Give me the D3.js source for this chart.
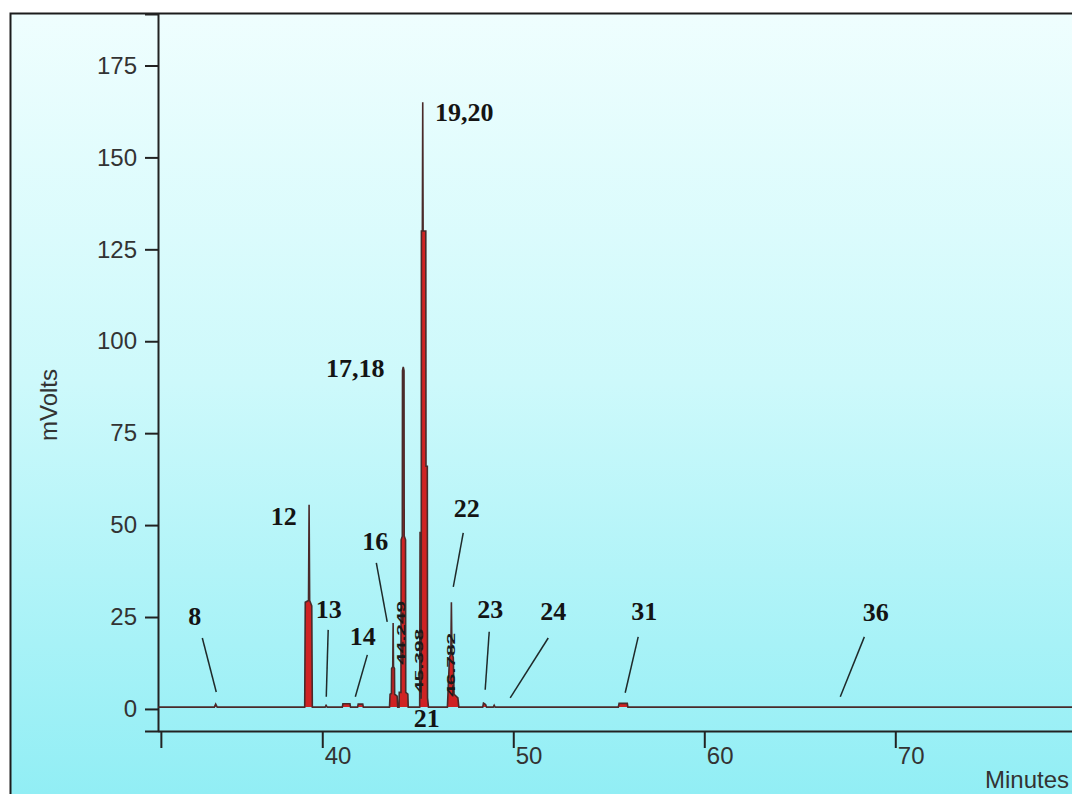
<!DOCTYPE html>
<html>
<head>
<meta charset="utf-8">
<script src="https://cdn.jsdelivr.net/npm/d3@7"></script>
<style>
  body { margin: 0; background: #fff; }
  svg { display: block; }
</style>
</head>
<body>
<svg id="chart" width="1072" height="794"></svg>
<script>
// chromatogram trace (minutes, mVolts)
const traceTime = [
    31.4,
    34.35, 34.42, 34.5,
    39.08, 39.11, 39.28, 39.31, 39.34, 39.45, 39.48,
    40.15, 40.2, 40.26,
    41.05, 41.08, 41.45, 41.48, 41.85, 41.88, 42.12, 42.15,
    43.52, 43.55, 43.62, 43.63, 43.69, 43.71, 43.73, 43.78, 43.79, 43.92, 43.95,
    44.02, 44.03, 44.12, 44.13, 44.19, 44.2, 44.24, 44.28, 44.29, 44.36, 44.37, 44.48, 44.5,
    45.1, 45.12, 45.15, 45.16, 45.18, 45.19, 45.24, 45.26, 45.28, 45.42, 45.43, 45.5, 45.51, 45.56,
    46.55, 46.58, 46.66, 46.73, 46.76, 46.79, 46.86, 46.9, 47.1, 47.15,
    48.4, 48.44, 48.55, 48.6, 48.95, 49.0, 49.05,
    55.5, 55.54, 55.97, 56.0,
    80
];
const traceMv = [
    0.5,
    0.5, 1.3, 0.5,
    0.5, 29, 29.5, 55.5, 29.5, 28, 0.5,
    0.5, 1.0, 0.5,
    0.5, 1.4, 1.4, 0.5, 0.5, 1.3, 1.3, 0.5,
    0.5, 4, 4.2, 11, 11.5, 23.4, 11.5, 11, 4, 3.5, 0.5,
    0.5, 4.5, 4.5, 46, 47, 92, 93, 92, 47, 46, 4.5, 4, 0.5,
    0.5, 48, 48, 3, 3, 130, 130, 165, 130, 130, 66, 66, 3, 0.5,
    0.5, 4, 14, 15, 29, 15, 14, 4, 3, 0.5,
    0.5, 1.6, 1.2, 0.5, 0.5, 1.0, 0.5,
    0.5, 1.5, 1.5, 0.5,
    0.5
];

const yTicks = [0, 25, 50, 75, 100, 125, 150, 175];
const xTicks = [31.55, 40, 50, 60, 70];
const xTickLabels = ['', '40', '50', '60', '70'];

// peak numbers and where they sit
const peakLabels = ['8', '12', '13', '14', '16', '17,18', '19,20', '21', '22', '23', '24', '31', '36'];
const labelTime = [33.32, 37.98, 40.34, 42.12, 42.77, 41.73, 47.43, 45.47, 47.57, 48.80, 52.09, 56.86, 68.98];
const labelMv = [22.9, 50.1, 24.8, 17.4, 43.3, 90.4, 160, -4.9, 52.3, 24.8, 24.2, 24.2, 24.0];

// leader lines from label to peak
const leaderLabels = ['8', '13', '14', '16', '22', '23', '24', '31', '36'];
const leaderT1 = [33.72, 40.31, 42.36, 42.83, 47.38, 48.74, 51.83, 56.54, 68.38];
const leaderMv1 = [19.3, 21.5, 14.7, 39.7, 47.9, 21.0, 19.3, 19.6, 19.6];
const leaderT2 = [34.45, 40.21, 41.73, 43.40, 46.86, 48.53, 49.84, 55.86, 67.12];
const leaderMv2 = [4.6, 3.3, 3.3, 23.7, 33.2, 5.2, 3.0, 4.4, 3.3];

// retention times printed sideways on the peaks
const rtLabels = ['44.249', '45.398', '46.782'];
const rtTime = [44.35, 45.29, 46.96];
const rtMv = [12.0, 4.4, 3.3];

const svg = d3.select('#chart');

const x = d3.scaleLinear().domain([31.4, 80]).range([158, 1086.3]);
const y = d3.scaleLinear().domain([-6, 189]).range([731, 14]);

// background panel
const defs = svg.append('defs');
const grad = defs.append('linearGradient')
    .attr('id', 'bg')
    .attr('x1', 0).attr('y1', 0).attr('x2', 0).attr('y2', 1);
grad.append('stop').attr('offset', '0%').attr('stop-color', '#effefe');
grad.append('stop').attr('offset', '45%').attr('stop-color', '#cdf9fb');
grad.append('stop').attr('offset', '100%').attr('stop-color', '#8cedf4');

svg.append('rect')
    .attr('x', 10.5)
    .attr('y', 13.5)
    .attr('width', 1100)
    .attr('height', 820)
    .attr('fill', 'url(#bg)')
    .attr('stroke', '#1c1c1c')
    .attr('stroke-width', 2);

// axes
const yAxis = svg.append('g')
    .attr('transform', `translate(${x(31.4)},0)`)
    .call(d3.axisLeft(y).tickValues(yTicks).tickSize(13).tickSizeOuter(13).tickPadding(8));

yAxis.select('.domain').attr('stroke', '#222').attr('stroke-width', 2);
yAxis.selectAll('.tick line').attr('stroke', '#222').attr('stroke-width', 2);
yAxis.selectAll('.tick text')
    .attr('font-family', 'Liberation Sans, Arial, sans-serif')
    .attr('font-size', 24)
    .attr('fill', '#333');

const xAxis = svg.append('g')
    .attr('transform', `translate(0,${y(-6)})`)
    .call(d3.axisBottom(x).tickValues(xTicks).tickSize(17).tickSizeOuter(0)
        .tickFormat((d, i) => xTickLabels[i]));

xAxis.select('.domain').attr('stroke', '#222').attr('stroke-width', 2);
xAxis.selectAll('.tick line').attr('stroke', '#222').attr('stroke-width', 2);
xAxis.selectAll('.tick text')
    .attr('font-family', 'Liberation Sans, Arial, sans-serif')
    .attr('font-size', 24)
    .attr('fill', '#333')
    .attr('text-anchor', 'start')
    .attr('x', 2)
    .attr('y', 33)
    .attr('dy', 0);

svg.append('text')
    .attr('x', 985)
    .attr('y', 788)
    .attr('font-family', 'Liberation Sans, Arial, sans-serif')
    .attr('font-size', 24)
    .attr('fill', '#333')
    .text('Minutes');

svg.append('text')
    .attr('transform', 'translate(57,405) rotate(-90)')
    .attr('text-anchor', 'middle')
    .attr('font-family', 'Liberation Sans, Arial, sans-serif')
    .attr('font-size', 24)
    .attr('fill', '#333')
    .text('mVolts');

// trace
const trace = traceTime.map((t, i) => ({ t: t, v: traceMv[i] }));

const area = d3.area()
    .x(d => x(d.t))
    .y0(y(0.5))
    .y1(d => y(d.v));

const line = d3.line()
    .x(d => x(d.t))
    .y(d => y(d.v));

svg.append('path')
    .datum(trace)
    .attr('d', area)
    .attr('fill', '#cf2323');

svg.append('path')
    .datum(trace)
    .attr('d', line)
    .attr('fill', 'none')
    .attr('stroke', '#4a2a2a')
    .attr('stroke-width', 1.6);

// sideways retention times
svg.selectAll('text.rt')
    .data(rtLabels)
    .enter()
    .append('text')
    .attr('class', 'rt')
    .attr('transform', (d, i) => `translate(${x(rtTime[i])},${y(rtMv[i])}) rotate(-90)`)
    .attr('font-family', 'Liberation Sans, Arial, sans-serif')
    .attr('font-size', 11)
    .attr('font-weight', 'bold')
    .attr('textLength', 64)
    .attr('lengthAdjust', 'spacingAndGlyphs')
    .attr('fill', '#1a1a1a')
    .text(d => d);

// leaders
svg.selectAll('line.leader')
    .data(leaderLabels)
    .enter()
    .append('line')
    .attr('class', 'leader')
    .attr('x1', (d, i) => x(leaderT1[i]))
    .attr('y1', (d, i) => y(leaderMv1[i]))
    .attr('x2', (d, i) => x(leaderT2[i]))
    .attr('y2', (d, i) => y(leaderMv2[i]))
    .attr('stroke', '#1f2a2a')
    .attr('stroke-width', 1.5);

svg.selectAll('text.peak')
    .data(peakLabels)
    .enter()
    .append('text')
    .attr('class', 'peak')
    .attr('x', (d, i) => x(labelTime[i]))
    .attr('y', (d, i) => y(labelMv[i]))
    .attr('text-anchor', 'middle')
    .attr('font-family', 'Liberation Serif, Times New Roman, serif')
    .attr('font-weight', 'bold')
    .attr('font-size', 26)
    .attr('fill', '#141414')
    .text(d => d);
</script>
</body>
</html>
